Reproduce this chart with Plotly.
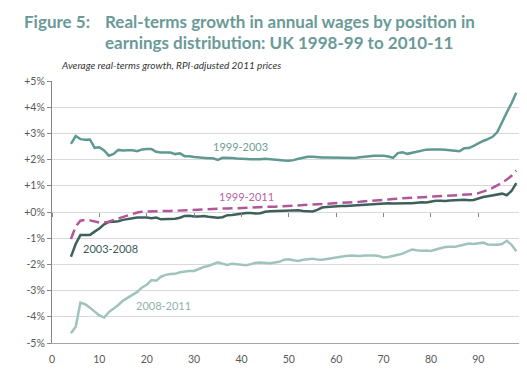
import plotly.graph_objects as go

percentiles = list(range(4, 99))

g_1999_2003 = [2.60, 2.90, 2.78, 2.76, 2.77, 2.45, 2.47, 2.35, 2.15, 2.22,
               2.37, 2.35, 2.36, 2.36, 2.32, 2.39, 2.40, 2.40, 2.30, 2.27,
               2.27, 2.27, 2.21, 2.24, 2.13, 2.13, 2.10, 2.08, 2.05, 2.05,
               2.05, 1.99, 2.07, 2.07, 2.06, 2.04, 2.04, 2.02, 2.01, 2.00,
               2.01, 2.03, 2.01, 2.01, 1.99, 1.97, 1.96, 1.98, 2.03, 2.07,
               2.11, 2.11, 2.09, 2.08, 2.08, 2.08, 2.07, 2.07, 2.07, 2.06,
               2.06, 2.09, 2.10, 2.13, 2.15, 2.15, 2.15, 2.12, 2.07, 2.25,
               2.28, 2.22, 2.26, 2.31, 2.36, 2.38, 2.39, 2.40, 2.39, 2.38,
               2.36, 2.35, 2.32, 2.43, 2.44, 2.52, 2.62, 2.71, 2.78, 2.87,
               3.05, 3.45, 3.80, 4.15, 4.55]

g_1999_2011 = [-1.03, -0.55, -0.33, -0.30, -0.32, -0.36, -0.40, -0.40, -0.37, -0.30,
               -0.24, -0.17, -0.11, -0.06, -0.02, 0.01, 0.02, 0.02, 0.03, 0.03,
               0.04, 0.04, 0.05, 0.06, 0.07, 0.08, 0.08, 0.09, 0.10, 0.10,
               0.11, 0.12, 0.13, 0.13, 0.14, 0.15, 0.15, 0.16, 0.17, 0.18,
               0.18, 0.19, 0.20, 0.20, 0.21, 0.22, 0.22, 0.23, 0.24, 0.25,
               0.26, 0.27, 0.28, 0.29, 0.30, 0.31, 0.33, 0.34, 0.35, 0.37,
               0.38, 0.39, 0.41, 0.42, 0.44, 0.45, 0.47, 0.48, 0.50, 0.51,
               0.52, 0.53, 0.55, 0.56, 0.57, 0.58, 0.59, 0.60, 0.61, 0.62,
               0.63, 0.64, 0.65, 0.66, 0.67, 0.68, 0.72, 0.77, 0.84, 0.92,
               1.01, 1.12, 1.24, 1.38, 1.58]

g_2003_2008 = [-1.71, -1.22, -0.88, -0.89, -0.88, -0.75, -0.63, -0.47, -0.38, -0.37,
               -0.35, -0.30, -0.26, -0.24, -0.21, -0.21, -0.21, -0.24, -0.21, -0.28,
               -0.28, -0.28, -0.26, -0.22, -0.15, -0.14, -0.17, -0.17, -0.15, -0.18,
               -0.20, -0.22, -0.20, -0.12, -0.11, -0.08, -0.05, -0.04, -0.04, -0.06,
               -0.05, 0.01, 0.03, 0.04, 0.04, 0.05, 0.06, 0.08, 0.07, 0.04,
               0.03, 0.02, 0.08, 0.17, 0.19, 0.21, 0.22, 0.23, 0.23, 0.24,
               0.26, 0.26, 0.28, 0.29, 0.31, 0.32, 0.32, 0.33, 0.32, 0.33,
               0.34, 0.33, 0.33, 0.35, 0.37, 0.36, 0.39, 0.43, 0.43, 0.42,
               0.44, 0.46, 0.46, 0.47, 0.45, 0.46, 0.53, 0.57, 0.60, 0.63,
               0.67, 0.70, 0.64, 0.80, 1.10]

g_2008_2011 = [-4.63, -4.38, -3.46, -3.52, -3.65, -3.80, -3.95, -4.03, -3.82, -3.68,
               -3.55, -3.38, -3.26, -3.15, -3.05, -2.88, -2.78, -2.60, -2.62, -2.47,
               -2.40, -2.37, -2.36, -2.30, -2.27, -2.25, -2.25, -2.17, -2.10, -2.06,
               -1.99, -1.92, -1.97, -2.02, -1.98, -2.00, -2.03, -2.03, -1.99, -1.94,
               -1.93, -1.94, -1.96, -1.93, -1.90, -1.82, -1.80, -1.84, -1.87, -1.82,
               -1.80, -1.78, -1.81, -1.82, -1.79, -1.77, -1.74, -1.71, -1.68, -1.66,
               -1.67, -1.68, -1.66, -1.65, -1.66, -1.68, -1.74, -1.72, -1.66, -1.63,
               -1.59, -1.50, -1.43, -1.46, -1.48, -1.47, -1.49, -1.43, -1.38, -1.34,
               -1.33, -1.33, -1.29, -1.24, -1.20, -1.22, -1.20, -1.17, -1.24, -1.24,
               -1.25, -1.22, -1.10, -1.25, -1.50]

y_ticks = [-5, -4, -3, -2, -1, 0, 1, 2, 3, 4, 5]
y_tick_labels = ["-5%", "-4%", "-3%", "-2%", "-1%", "+0%", "+1%", "+2%", "+3%", "+4%", "+5%"]
x_ticks = [0, 10, 20, 30, 40, 50, 60, 70, 80, 90]

C_9903 = "#5f9992"
C_9911 = "#b0579a"
C_0308 = "#3e605a"
C_0811 = "#a0c4bd"
FONT = "Lato"

fig = go.Figure()
fig.add_trace(go.Scatter(x=percentiles, y=g_2008_2011, mode="lines",
                         line=dict(color=C_0811, width=2.5), name="2008-2011"))
fig.add_trace(go.Scatter(x=percentiles, y=g_1999_2003, mode="lines",
                         line=dict(color=C_9903, width=2.5), name="1999-2003"))
fig.add_trace(go.Scatter(x=percentiles, y=g_2003_2008, mode="lines",
                         line=dict(color=C_0308, width=2.5), name="2003-2008"))
fig.add_trace(go.Scatter(x=percentiles, y=g_1999_2011, mode="lines",
                         line=dict(color=C_9911, width=2.5, dash="10px,5px"), name="1999-2011"))
# helper trace for the tick-mark axis at the zero line
fig.add_trace(go.Scatter(x=[0], y=[0], xaxis="x2", mode="markers",
                         marker=dict(opacity=0), hoverinfo="skip", showlegend=False))

fig.update_layout(
    width=527, height=369,
    margin=dict(l=44, r=14, t=73, b=31),
    paper_bgcolor="white", plot_bgcolor="white",
    showlegend=False,
    font=dict(family=FONT, color="#595959", size=10),
    xaxis=dict(range=[0, 99], tickvals=x_ticks, showgrid=False, zeroline=False,
               showline=True, linecolor="#a6a6a6", linewidth=1, ticks="",
               tickfont=dict(size=10.5, color="#595959"), ticklabelstandoff=6),
    xaxis2=dict(range=[0, 99], overlaying="x", anchor="free", position=0.5,
                tickvals=x_ticks, ticks="outside", ticklen=4, tickcolor="#868686",
                showticklabels=False, showgrid=False, zeroline=False, showline=False),
    yaxis=dict(range=[-5, 5], tickvals=y_ticks, ticktext=y_tick_labels,
               showgrid=True, gridcolor="#d9d9d9", gridwidth=1, zeroline=False,
               showline=True, linecolor="#868686", linewidth=1,
               ticks="outside", ticklen=4, tickcolor="#868686",
               tickfont=dict(size=10.5, color="#595959")),
)

TITLE_C = "#6a9a98"
ann = [
    dict(text="<b>Figure 5:</b>", x=-0.0646, y=1.2285, xanchor="left"),
    dict(text="<b>Real-terms growth in annual wages by position in</b>", x=0.1081, y=1.2285, xanchor="left"),
    dict(text="<b>earnings distribution: UK 1998-99 to 2010-11</b>", x=0.1081, y=1.1457, xanchor="left"),
]
for a in ann:
    fig.add_annotation(xref="paper", yref="paper", yanchor="middle", showarrow=False,
                       font=dict(family=FONT, size=17, color=TITLE_C), **a)

fig.add_annotation(xref="paper", yref="paper", x=(51.5 - 44.3) / 469, y=1.0602,
                   xanchor="left", yanchor="middle", showarrow=False,
                   text="<i>Average real-terms growth, RPI-adjusted 2011 prices</i>",
                   font=dict(family=FONT, size=10, color="#333333"))

labels = [("1999-2003", 39.8, 2.51, "#6f9e98"),
          ("1999-2011", 41.1, 0.58, "#b5669f"),
          ("2003-2008", 12.4, -1.41, "#3e5a56"),
          ("2008-2011", 23.6, -3.57, "#8fb2ac")]
for t, x, y, c in labels:
    fig.add_annotation(x=x, y=y, text=t, showarrow=False, xanchor="center", yanchor="middle",
                       font=dict(family=FONT, size=11, color=c))

fig.write_html("out.html")
